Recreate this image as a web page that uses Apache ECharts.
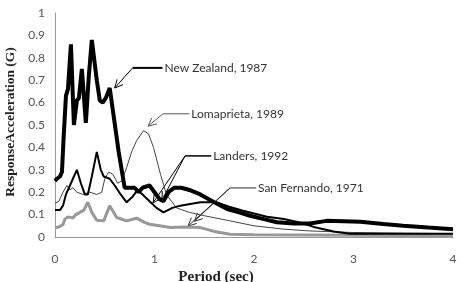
<!DOCTYPE html>
<html>
<head>
<meta charset="utf-8">
<script src="https://cdn.jsdelivr.net/npm/echarts@6/dist/echarts.min.js"></script>
<style>
  html, body { margin: 0; padding: 0; background: #fff; }
  #chart { width: 462px; height: 282px; }
</style>
</head>
<body>
<div id="chart"></div>
<script>
// period (sec), response acceleration (G)
var newZealand = [
  [0.0, 0.25], [0.02, 0.26], [0.05, 0.27], [0.07, 0.29], [0.085, 0.43], [0.11, 0.63], [0.13, 0.66],
  [0.16, 0.86], [0.19, 0.50], [0.22, 0.61], [0.24, 0.62], [0.27, 0.75], [0.31, 0.51], [0.34, 0.72],
  [0.37, 0.88], [0.42, 0.70], [0.45, 0.61], [0.48, 0.60], [0.51, 0.62], [0.55, 0.665], [0.57, 0.66],
  [0.64, 0.38], [0.70, 0.22], [0.76, 0.22], [0.80, 0.22], [0.84, 0.20], [0.88, 0.22], [0.95, 0.23],
  [1.00, 0.20], [1.05, 0.17], [1.09, 0.16], [1.14, 0.20], [1.20, 0.22], [1.27, 0.22], [1.35, 0.21],
  [1.46, 0.19], [1.60, 0.155], [1.73, 0.125], [1.85, 0.11], [1.96, 0.095], [2.10, 0.08], [2.23, 0.066],
  [2.40, 0.06], [2.56, 0.06], [2.73, 0.072], [2.90, 0.07], [3.07, 0.068], [3.30, 0.058], [3.50, 0.05],
  [3.75, 0.042], [4.0, 0.035]
];
var lomaprieta = [
  [0.0, 0.15], [0.04, 0.16], [0.08, 0.20], [0.12, 0.23], [0.15, 0.21], [0.18, 0.22], [0.22, 0.20],
  [0.28, 0.19], [0.35, 0.20], [0.42, 0.19], [0.47, 0.20], [0.50, 0.26], [0.54, 0.29], [0.58, 0.28],
  [0.63, 0.24], [0.67, 0.25], [0.72, 0.31], [0.77, 0.38], [0.82, 0.43], [0.89, 0.475], [0.94, 0.46],
  [0.99, 0.40], [1.06, 0.28], [1.12, 0.19], [1.22, 0.13], [1.35, 0.11], [1.50, 0.095], [1.76, 0.072],
  [2.0, 0.05], [2.3, 0.035], [2.56, 0.027], [3.0, 0.02], [3.5, 0.017], [4.0, 0.015]
];
var landers = [
  [0.0, 0.12], [0.05, 0.12], [0.08, 0.14], [0.11, 0.19], [0.14, 0.22], [0.18, 0.26], [0.22, 0.30],
  [0.26, 0.24], [0.30, 0.19], [0.33, 0.19], [0.37, 0.27], [0.42, 0.38], [0.46, 0.30], [0.49, 0.27],
  [0.55, 0.26], [0.60, 0.23], [0.66, 0.19], [0.72, 0.155], [0.78, 0.18], [0.83, 0.21], [0.88, 0.19],
  [0.95, 0.16], [1.02, 0.13], [1.09, 0.11], [1.18, 0.13], [1.26, 0.14], [1.46, 0.155], [1.62, 0.155],
  [1.75, 0.135], [1.89, 0.117], [2.13, 0.09], [2.30, 0.08], [2.46, 0.065], [2.60, 0.045], [2.80, 0.025],
  [2.96, 0.015], [3.5, 0.015], [4.0, 0.015]
];
var sanFernando = [
  [0.0, 0.04], [0.04, 0.045], [0.08, 0.055], [0.10, 0.08], [0.13, 0.09], [0.15, 0.095], [0.18, 0.085],
  [0.21, 0.10], [0.25, 0.11], [0.29, 0.12], [0.33, 0.155], [0.37, 0.11], [0.42, 0.075], [0.49, 0.072],
  [0.55, 0.14], [0.62, 0.087], [0.72, 0.072], [0.82, 0.084], [0.90, 0.065], [0.95, 0.057], [1.05, 0.05],
  [1.16, 0.042], [1.30, 0.045], [1.46, 0.042], [1.60, 0.025], [1.76, 0.012], [2.0, 0.01], [3.0, 0.008],
  [4.0, 0.006]
];

// callouts: label, text anchor, elbow, arrow tips (data coords)
var callouts = [
  { text: 'New Zealand, 1987', at: [1.1, 0.75], elbow: [0.78, 0.755], tips: [[0.60, 0.665]], width: 2, color: '#000' },
  { text: 'Lomaprieta, 1989', at: [1.37, 0.55], elbow: [1.085, 0.55], tips: [[0.935, 0.495]], width: 1, color: '#555' },
  { text: 'Landers, 1992', at: [1.59, 0.362], elbow: [1.307, 0.362], tips: [[0.985, 0.152], [1.075, 0.165]], width: 1.5, color: '#000' },
  { text: 'San Fernando, 1971', at: [2.04, 0.219], elbow: [1.759, 0.219], tips: [[1.337, 0.049], [1.40, 0.07]], width: 1, color: '#333' }
];

var chart = echarts.init(document.getElementById('chart'))

chart.setOption({
  animation: false,
  grid: { left: 55, right: 9, top: 13, bottom: 45, outerBoundsMode: 'none', containLabel: false },
  xAxis: {
    type: 'value',
    min: 0,
    max: 4,
    interval: 1,
    name: 'Period (sec)',
    nameLocation: 'middle',
    nameGap: 31,
    nameTextStyle: {
      fontFamily: 'Liberation Serif',
      fontWeight: 'bold',
      fontSize: 15,
      color: '#222',
      padding: [0, 76, 0, 0]
    },
    axisLine: { lineStyle: { color: '#999' } },
    axisTick: { show: false },
    splitLine: { show: false },
    axisLabel: { margin: 16, fontFamily: 'Lato', fontSize: 12, color: '#555' }
  },
  yAxis: {
    type: 'value',
    min: 0,
    max: 1,
    interval: 0.1,
    name: 'ResponseAcceleration (G)',
    nameLocation: 'middle',
    nameGap: 33,
    nameTextStyle: {
      fontFamily: 'Liberation Serif',
      fontWeight: 'bold',
      fontSize: 13.5,
      color: '#222',
      padding: [0, 0, 0, 6]
    },
    axisLine: { show: true, lineStyle: { color: '#999' } },
    axisTick: { show: false },
    splitLine: { show: false },
    axisLabel: {
      margin: 10,
      fontFamily: 'Lato',
      fontSize: 12,
      color: '#555',
      formatter: function (v) { return String(Math.round(v * 10) / 10) }
    }
  },
  series: [
    {
      name: 'San Fernando, 1971', type: 'line', data: sanFernando, showSymbol: false,
      lineStyle: { color: '#999', width: 3 }
    },
    {
      name: 'Lomaprieta, 1989', type: 'line', data: lomaprieta, showSymbol: false,
      lineStyle: { color: '#444', width: 1 }
    },
    {
      name: 'Landers, 1992', type: 'line', data: landers, showSymbol: false,
      lineStyle: { color: '#000', width: 2 }
    },
    {
      name: 'New Zealand, 1987', type: 'line', data: newZealand, showSymbol: false,
      lineStyle: { color: '#000', width: 4 }
    }
  ]
})

// callout lines with open arrow heads, placed through the chart's scales
function arrowHead(tip, from, len, spread) {
  var a = Math.atan2(from[1] - tip[1], from[0] - tip[0])
  return [
    [tip[0] + len * Math.cos(a + spread), tip[1] + len * Math.sin(a + spread)],
    tip,
    [tip[0] + len * Math.cos(a - spread), tip[1] + len * Math.sin(a - spread)]
  ]
}

var graphics = []
callouts.forEach(function (c) {
  var at = chart.convertToPixel({ gridIndex: 0 }, c.at)
  var elbow = chart.convertToPixel({ gridIndex: 0 }, c.elbow)
  var style = { stroke: c.color, lineWidth: c.width, fill: null }
  graphics.push({
    type: 'polyline',
    shape: { points: [[at[0] - 2, elbow[1]], elbow] },
    style: style
  })
  c.tips.forEach(function (t) {
    var tip = chart.convertToPixel({ gridIndex: 0 }, t)
    graphics.push({ type: 'polyline', shape: { points: [elbow, tip] }, style: { stroke: c.color, lineWidth: 1, fill: null } })
    graphics.push({
      type: 'polyline',
      shape: { points: arrowHead(tip, elbow, 9, 0.45) },
      style: { stroke: c.color, lineWidth: 1, fill: null }
    })
  })
  graphics.push({
    type: 'text',
    x: at[0],
    y: elbow[1],
    style: {
      text: c.text,
      fontFamily: 'Lato',
      fontSize: 12,
      fill: '#333',
      textVerticalAlign: 'middle',
      verticalAlign: 'middle'
    }
  })
})
chart.setOption({ graphic: graphics })
</script>
</body>
</html>
